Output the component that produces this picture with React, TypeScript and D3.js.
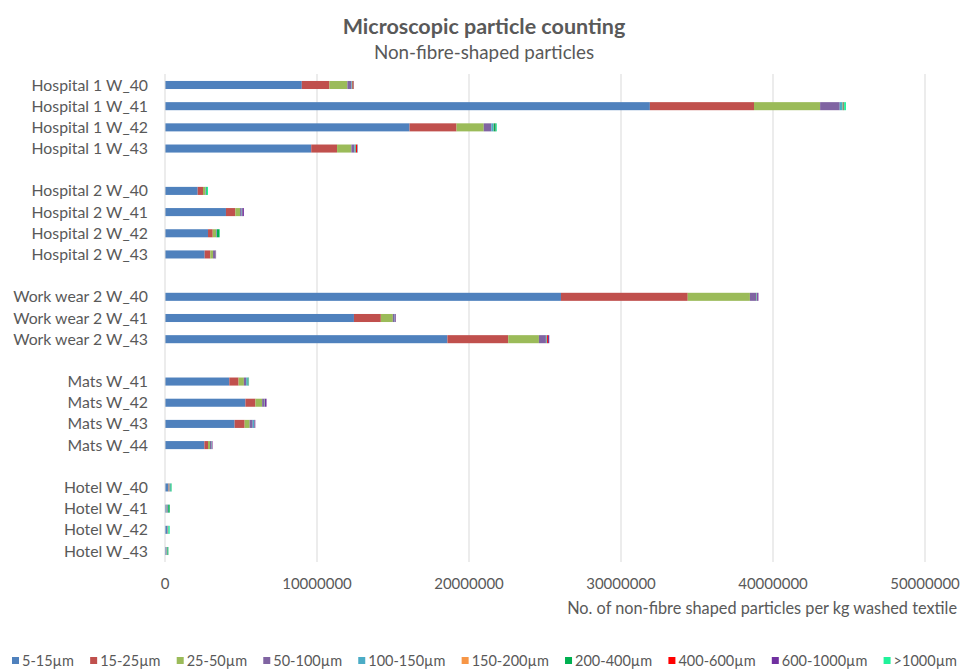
import React, { useEffect, useRef } from "react";
import * as d3 from "d3";

const categories: string[] = [
  "Hospital 1 W_40", "Hospital 1 W_41", "Hospital 1 W_42", "Hospital 1 W_43", "",
  "Hospital 2 W_40", "Hospital 2 W_41", "Hospital 2 W_42", "Hospital 2 W_43", " ",
  "Work wear 2 W_40", "Work wear 2 W_41", "Work wear 2 W_43", "  ",
  "Mats W_41", "Mats W_42", "Mats W_43", "Mats W_44", "   ",
  "Hotel W_40", "Hotel W_41", "Hotel W_42", "Hotel W_43",
];

const seriesNames: string[] = [
  "5-15µm", "15-25µm", "25-50µm", "50-100µm", "100-150µm",
  "150-200µm", "200-400µm", "400-600µm", "600-1000µm", ">1000µm",
];

const seriesColors: string[] = [
  "#4F81BD", "#C0504D", "#9BBB59", "#8064A2", "#4BACC6",
  "#F79646", "#00B050", "#FF0000", "#7030A0", "#21F29B",
];

// values per series, aligned with categories (blank categories = 0)
const s5_15 = [9.0e6, 31.9e6, 16.09e6, 9.62e6, 0, 2.15e6, 4.01e6, 2.83e6, 2.61e6, 0, 26.05e6, 12.43e6, 18.58e6, 0, 4.23e6, 5.29e6, 4.58e6, 2.59e6, 0, 0.22e6, 0.1e6, 0.16e6, 0.08e6];
const s15_25 = [1.82e6, 6.85e6, 3.09e6, 1.7e6, 0, 0.35e6, 0.62e6, 0.31e6, 0.37e6, 0, 8.34e6, 1.77e6, 4.0e6, 0, 0.61e6, 0.66e6, 0.66e6, 0.24e6, 0, 0.03e6, 0.01e6, 0.02e6, 0.01e6];
const s25_50 = [1.18e6, 4.35e6, 1.79e6, 0.94e6, 0, 0.15e6, 0.31e6, 0.22e6, 0.18e6, 0, 4.09e6, 0.79e6, 2.02e6, 0, 0.35e6, 0.44e6, 0.33e6, 0.13e6, 0, 0.04e6, 0.02e6, 0.01e6, 0.02e6];
const s50_100 = [0.26e6, 1.29e6, 0.5e6, 0.21e6, 0, 0.03e6, 0.1e6, 0.04e6, 0.13e6, 0, 0.41e6, 0.12e6, 0.46e6, 0, 0.15e6, 0.14e6, 0.2e6, 0.1e6, 0, 0.03e6, 0.05e6, 0.01e6, 0.02e6];
const s100_150 = [0.04e6, 0.18e6, 0.15e6, 0.05e6, 0, 0.02e6, 0.02e6, 0.02e6, 0.02e6, 0, 0.03e6, 0.02e6, 0.05e6, 0, 0.1e6, 0.03e6, 0.1e6, 0.02e6, 0, 0.05e6, 0.03e6, 0.01e6, 0.03e6];
const s150_200 = [0.01e6, 0.02e6, 0.01e6, 0.01e6, 0, 0.0, 0.0, 0.0, 0.0, 0, 0.01e6, 0.0, 0.01e6, 0, 0.0, 0.0, 0.0, 0.0, 0, 0.0, 0.0, 0.0, 0.0];
const s200_400 = [0.03e6, 0.05e6, 0.12e6, 0.03e6, 0, 0.05e6, 0.02e6, 0.17e6, 0.01e6, 0, 0.02e6, 0.01e6, 0.02e6, 0, 0.03e6, 0.01e6, 0.01e6, 0.01e6, 0, 0.05e6, 0.1e6, 0.02e6, 0.06e6];
const s400_600 = [0.06e6, 0.02e6, 0.01e6, 0.08e6, 0, 0.0, 0.01e6, 0.0, 0.01e6, 0, 0.01e6, 0.01e6, 0.06e6, 0, 0.01e6, 0.01e6, 0.01e6, 0.01e6, 0, 0.0, 0.0, 0.0, 0.0];
const s600_1000 = [0.02e6, 0.02e6, 0.01e6, 0.03e6, 0, 0.0, 0.1e6, 0.0, 0.03e6, 0, 0.08e6, 0.04e6, 0.08e6, 0, 0.02e6, 0.1e6, 0.05e6, 0.03e6, 0, 0.0, 0.0, 0.0, 0.0];
const s1000 = [0.01e6, 0.12e6, 0.06e6, 0.01e6, 0, 0.08e6, 0.0, 0.01e6, 0.0, 0, 0.0, 0.0, 0.0, 0, 0.03e6, 0.0, 0.0, 0.0, 0, 0.02e6, 0.0, 0.08e6, 0.0];

const seriesValues: number[][] = [s5_15, s15_25, s25_50, s50_100, s100_150, s150_200, s200_400, s400_600, s600_1000, s1000];

const xTicks: number[] = [0, 10000000, 20000000, 30000000, 40000000, 50000000];

const title = "Microscopic particle counting";
const subtitle = "Non-fibre-shaped particles";
const xAxisTitle = "No. of non-fibre shaped particles per kg washed textile";

const W = 963;
const H = 670;
const FONT = "Lato, 'Open Sans', sans-serif";
const TEXT = "#595959";

export default function App() {
  const ref = useRef<SVGSVGElement | null>(null);

  useEffect(() => {
    const svg = d3.select(ref.current);
    svg.selectAll("*").remove();

    const x = d3.scaleLinear().domain([0, 50000000]).range([165, 925]);
    const y = d3
      .scaleBand<number>()
      .domain(d3.range(categories.length))
      .range([74.4, 561.6])
      .paddingInner(0.62)
      .paddingOuter(0.31);

    // title
    svg.append("text").attr("x", 484).attr("y", 34).attr("text-anchor", "middle")
      .attr("font-family", FONT).attr("font-weight", "bold").attr("font-size", 21.5)
      .attr("fill", TEXT).text(title);
    svg.append("text").attr("x", 484).attr("y", 59).attr("text-anchor", "middle")
      .attr("font-family", FONT).attr("font-size", 18.8)
      .attr("fill", TEXT).text(subtitle);

    // gridlines
    svg.append("g").selectAll("line").data(xTicks.slice(1)).join("line")
      .attr("x1", (d) => x(d)).attr("x2", (d) => x(d))
      .attr("y1", 74).attr("y2", 562)
      .attr("stroke", "#D9D9D9").attr("stroke-width", 1);

    // stacked bars
    const table = categories.map((c, i) => {
      const row: Record<string, number> = { idx: i };
      seriesNames.forEach((s, k) => (row[s] = seriesValues[k][i]));
      return row;
    });
    const stack = d3.stack<Record<string, number>>().keys(seriesNames);
    const layers = stack(table);

    const g = svg.append("g");
    layers.forEach((layer, k) => {
      g.append("g").attr("fill", seriesColors[k])
        .selectAll("rect").data(layer).join("rect")
        .attr("x", (d) => x(d[0]))
        .attr("y", (d, i) => y(i) as number)
        .attr("width", (d) => Math.max(0, x(d[1]) - x(d[0])))
        .attr("height", y.bandwidth());
    });

    // y axis line
    svg.append("line").attr("x1", 165).attr("x2", 165).attr("y1", 74).attr("y2", 562)
      .attr("stroke", "#D9D9D9").attr("stroke-width", 1);

    // y labels
    svg.append("g").selectAll("text").data(categories).join("text")
      .attr("x", 148)
      .attr("y", (d, i) => (y(i) as number) + y.bandwidth() / 2)
      .attr("dy", "0.35em")
      .attr("text-anchor", "end")
      .attr("font-family", FONT).attr("font-size", 15.8).attr("fill", TEXT)
      .text((d) => d.trim());

    // x tick labels
    svg.append("g").selectAll("text").data(xTicks).join("text")
      .attr("x", (d) => x(d)).attr("y", 589)
      .attr("text-anchor", "middle")
      .attr("font-family", FONT).attr("font-size", 15).attr("fill", TEXT)
      .text((d) => String(d));

    // x axis title
    svg.append("text").attr("x", 957).attr("y", 614).attr("text-anchor", "end")
      .attr("font-family", FONT).attr("font-size", 16.3).attr("fill", TEXT)
      .text(xAxisTitle);

    // legend
    const lg = svg.append("g");
    const items = seriesNames.map((name, k) => {
      const item = lg.append("g");
      item.append("rect").attr("x", 0).attr("y", -4).attr("width", 7).attr("height", 7)
        .attr("fill", seriesColors[k]);
      const t = item.append("text").attr("x", 10).attr("y", 0).attr("dy", "0.35em")
        .attr("font-family", FONT).attr("font-size", 14.5).attr("fill", TEXT).text(name);
      const w = 10 + (t.node() as SVGTextElement).getComputedTextLength();
      return { item, w };
    });
    const start = 12;
    const end = 957;
    const gap = (end - start - d3.sum(items, (d) => d.w)) / (items.length - 1);
    let cx = start;
    items.forEach(({ item, w }) => {
      item.attr("transform", `translate(${cx},661)`);
      cx += w + gap;
    });
  }, []);

  return (
    <svg ref={ref} width={W} height={H}
      style={{ position: "absolute", left: 0, top: 0, background: "#fff" }} />
  );
}
